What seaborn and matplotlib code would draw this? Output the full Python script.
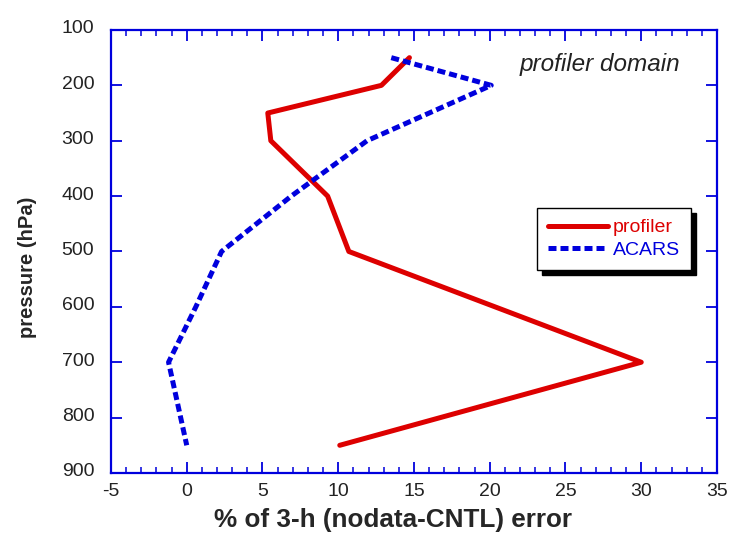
import matplotlib
matplotlib.use("Agg")
import matplotlib.pyplot as plt
import matplotlib.transforms as mtransforms
import seaborn as sns
import pandas as pd
from matplotlib.ticker import MultipleLocator

prof_p = [150, 200, 250, 300, 400, 500, 700, 850]
prof_v = [14.7, 12.85, 5.35, 5.55, 9.3, 10.7, 30.0, 10.1]
acars_p = [150, 200, 250, 300, 400, 500, 600, 700, 850]
acars_v = [13.5, 20.1, 16.0, 11.9, 6.9, 2.3, 0.6, -1.2, 0.0]

x_ticks = [-5, 0, 5, 10, 15, 20, 25, 30, 35]
y_ticks = [100, 200, 300, 400, 500, 600, 700, 800, 900]

sns.set_style("white")
plt.rcParams['font.family'] = ['Liberation Sans', 'DejaVu Sans']
plt.rcParams['axes.unicode_minus'] = False

fig = plt.figure(figsize=(7.35, 5.4), dpi=100)
ax = fig.add_axes([0.151, 0.1241, 0.8245, 0.8204])

red = "#dd0000"
blue = "#0000dd"
df_p = pd.DataFrame({"x": prof_v, "p": prof_p})
df_a = pd.DataFrame({"x": acars_v, "p": acars_p})
sns.lineplot(data=df_p, x="x", y="p", sort=False, estimator=None, ax=ax,
             color=red, linewidth=3.6, label="profiler")
sns.lineplot(data=df_a, x="x", y="p", sort=False, estimator=None, ax=ax,
             color=blue, linewidth=3.6, label="ACARS")
ax.lines[1].set_dashes([1.6, 0.8])
ax.lines[1].set_dash_capstyle("butt")

ax.set_xlim(-5, 35)
ax.set_ylim(900, 100)
ax.set_xticks(x_ticks)
ax.set_yticks(y_ticks)
ax.xaxis.set_minor_locator(MultipleLocator(1))
ax.tick_params(axis="both", which="both", direction="in", color=blue,
               top=True, right=True, bottom=True, left=True,
               labelcolor="#222222", labelsize=14)
ax.tick_params(axis="both", which="major", length=8, width=1.3)
ax.tick_params(axis="x", which="minor", length=4.3, width=1.1)
ax.tick_params(axis="x", which="major", pad=7)
ax.tick_params(axis="y", which="major", pad=12)
for s in ax.spines.values():
    s.set_color(blue)
    s.set_linewidth(1.6)
    s.set_visible(True)

offset = mtransforms.ScaledTranslation(0, 3 / 100, fig.dpi_scale_trans)
for lab in ax.get_yticklabels():
    lab.set_transform(lab.get_transform() + offset)

ax.set_xlabel("% of 3-h (nodata-CNTL) error", fontsize=18.8, fontweight="bold")
ax.set_ylabel("pressure (hPa)", fontsize=14.5, fontweight="bold")
ax.xaxis.set_label_coords(0.466, -0.079)
ax.yaxis.set_label_coords(-0.122, 0.465)

ax.text(0.807, 0.921, "profiler domain", transform=ax.transAxes, ha="center",
        va="center", fontsize=17.5, style="italic", color="#222222")

leg = ax.legend(loc="upper left", bbox_to_anchor=(0.703, 0.598), borderaxespad=0,
                frameon=True, fancybox=False,
                shadow={"color": "black", "alpha": 1, "ox": 3.6, "oy": -3.6},
                edgecolor="black", fontsize=14, handlelength=3.1,
                handletextpad=0.25, borderpad=0.55, labelspacing=0.27)
leg.get_frame().set_linewidth(1.0)
for t, c in zip(leg.get_texts(), [red, blue]):
    t.set_color(c)

fig.savefig("out.png", dpi=100)
